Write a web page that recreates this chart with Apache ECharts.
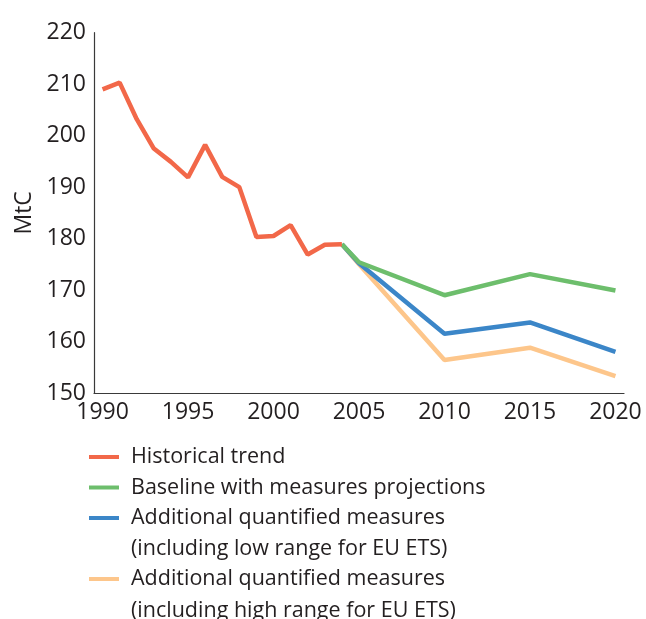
<!DOCTYPE html>
<html>
<head>
<meta charset="utf-8">
<script src="https://cdn.jsdelivr.net/npm/echarts@6/dist/echarts.min.js"></script>
<style>
html,body{margin:0;padding:0;background:#fff;}
#c{width:646px;height:619px;}
</style>
</head>
<body>
<div id="c"></div>
<script>
var years = [];
for (var y = 1990; y <= 2020; y++) years.push(String(y));

var historical = [209.0, 210.3, 203.2, 197.5, 194.9, 191.9, 198.2, 192.0, 190.0, 180.3,
                  180.5, 182.6, 176.9, 178.8, 178.9];
var projYears = ['2004', '2005', '2010', '2015', '2020'];
var baseline = [178.9, 175.4, 169.0, 173.1, 169.9];
var lowRange = [178.9, 175.2, 161.5, 163.7, 158.0];
var highRange = [178.9, 175.0, 156.4, 158.8, 153.3];

var names = {
  hist: 'Historical trend',
  base: 'Baseline with measures projections',
  low: 'Additional quantified measures\n(including low range for EU ETS)',
  high: 'Additional quantified measures\n(including high range for EU ETS)'
};
var colors = { hist: '#F26849', base: '#6DBE6C', low: '#3B86C8', high: '#FDC68B' };

function toCat(px, vals) {
  return px.map(function (yr, i) { return [yr, vals[i]]; });
}
var font = 'Open Sans';
var txt = '#231f20';

var chart = echarts.init(document.getElementById('c'));
chart.setOption({
  animation: false,
  textStyle: { fontFamily: font },
  grid: { left: 94, right: 22, top: 32.7, bottom: 226 },
  xAxis: {
    type: 'category',
    data: years,
    boundaryGap: true,
    axisLine: { lineStyle: { color: '#3a3a3a', width: 1.2 } },
    axisTick: { show: false },
    axisLabel: { interval: 4, fontSize: 23, color: txt, fontFamily: font, margin: 8 }
  },
  yAxis: {
    type: 'value',
    min: 150, max: 220, interval: 10,
    name: 'MtC',
    nameLocation: 'middle',
    nameGap: 58,
    nameRotate: 90,
    nameTextStyle: { fontSize: 23, color: txt, fontFamily: font },
    axisLine: { show: true, lineStyle: { color: '#3a3a3a', width: 1.2 } },
    axisTick: { show: false },
    splitLine: { show: false },
    axisLabel: { fontSize: 23, color: txt, fontFamily: font, margin: 8, padding: [0, 0, 10, 0] }
  },
  legend: [{
    orient: 'vertical',
    left: 89, top: 442,
    padding: 0,
    itemGap: 0.5,
    itemWidth: 30, itemHeight: 4,
    icon: 'rect',
    data: [names.hist, names.base, names.low],
    formatter: function (n) { return n.split('\n')[0]; },
    textStyle: { fontSize: 21.5, color: txt, fontFamily: font, lineHeight: 30, padding: [0, 0, 0, 7] }
  }, {
    orient: 'vertical',
    left: 89, top: 564,
    padding: 0,
    itemWidth: 30, itemHeight: 4,
    icon: 'rect',
    data: [names.high],
    formatter: function (n) { return n.split('\n')[0]; },
    textStyle: { fontSize: 21.5, color: txt, fontFamily: font, lineHeight: 30, padding: [0, 0, 0, 7] }
  }],
  graphic: [{
    type: 'text', left: 131, top: 534,
    style: { text: names.low.split('\n')[1], fontSize: 21.5, fill: txt, fontFamily: font, lineHeight: 30 }
  }, {
    type: 'text', left: 131, top: 596,
    style: { text: names.high.split('\n')[1], fontSize: 21.5, fill: txt, fontFamily: font, lineHeight: 30 }
  }],
  series: [{
    name: names.high, type: 'line', z: 2,
    data: toCat(projYears, highRange),
    color: colors.high, showSymbol: false, symbol: 'none',
    lineStyle: { width: 4.5, color: colors.high }
  }, {
    name: names.low, type: 'line', z: 3,
    data: toCat(projYears, lowRange),
    color: colors.low, showSymbol: false, symbol: 'none',
    lineStyle: { width: 4.5, color: colors.low }
  }, {
    name: names.base, type: 'line', z: 4,
    data: toCat(projYears, baseline),
    color: colors.base, showSymbol: false, symbol: 'none',
    lineStyle: { width: 4.5, color: colors.base }
  }, {
    name: names.hist, type: 'line', z: 5,
    data: historical,
    color: colors.hist, showSymbol: false, symbol: 'none',
    lineStyle: { width: 4.5, color: colors.hist }
  }]
});
</script>
</body>
</html>
